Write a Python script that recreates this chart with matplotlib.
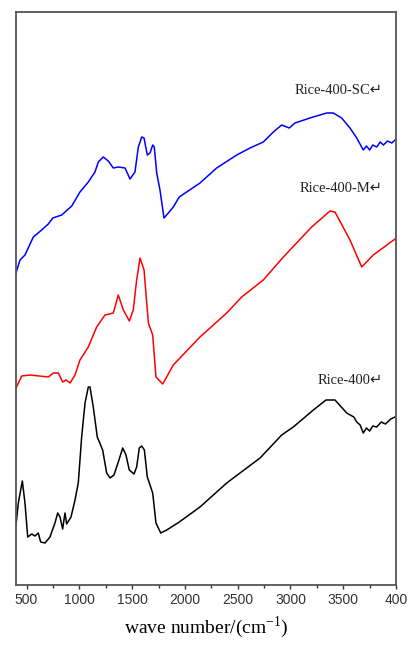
import matplotlib
matplotlib.use("Agg")
import matplotlib.pyplot as plt
from matplotlib.ticker import MultipleLocator

# Wavenumbers (cm^-1) and arbitrary-unit intensities (offset stacked spectra)
wn_sc = [400, 438, 485, 564, 643, 706, 748, 833, 928, 1006, 1085, 1148, 1180, 1227, 1274,
         1322, 1369, 1433, 1480, 1527, 1559, 1591, 1613, 1644, 1670, 1695, 1710, 1733, 1764,
         1802, 1843, 1890, 1947, 2143, 2301, 2491, 2617, 2743, 2838, 2917, 2989, 3043, 3185,
         3343, 3406, 3485, 3564, 3628, 3690, 3720, 3750, 3780, 3817, 3850, 3880, 3920, 3960, 3991]
int_sc = [312, 325, 330, 348, 355, 361, 367, 370, 379, 393, 403, 413, 423, 428, 424,
          417, 418, 417, 406, 413, 438, 448, 447, 430, 432, 440, 438, 412, 395,
          367, 372, 378, 388, 402, 417, 430, 437, 443, 453, 460, 457, 462, 467,
          472, 472, 467, 457, 447, 435, 439, 435, 440, 438, 443, 440, 444, 442, 445]

wn_m = [400, 454, 533, 706, 754, 801, 842, 874, 912, 959, 1006, 1085, 1164, 1243, 1322,
        1369, 1417, 1474, 1511, 1543, 1575, 1613, 1654, 1695, 1726, 1790, 1890, 2143, 2396,
        2538, 2743, 2933, 3201, 3375, 3422, 3564, 3675, 3785, 3991]
int_m = [197, 209, 210, 208, 212, 212, 203, 205, 202, 210, 225, 238, 258, 270, 272,
         290, 275, 264, 275, 305, 327, 315, 262, 250, 208, 201, 220, 248, 272,
         288, 305, 328, 358, 374, 373, 345, 318, 330, 346]

wn_r = [400, 422, 460, 485, 511, 549, 580, 611, 634, 675, 722, 769, 795, 817, 842, 864,
        880, 921, 959, 990, 1022, 1054, 1085, 1101, 1132, 1170, 1221, 1259, 1291, 1328,
        1369, 1411, 1442, 1473, 1518, 1543, 1568, 1591, 1616, 1644, 1695, 1726, 1771, 1828,
        1947, 2143, 2396, 2712, 2917, 3027, 3217, 3337, 3422, 3533, 3600, 3628, 3660, 3690,
        3720, 3750, 3780, 3817, 3860, 3900, 3950, 3991]
int_r = [60, 82, 104, 82, 48, 51, 49, 52, 43, 42, 48, 62, 72, 68, 56, 72,
         61, 68, 85, 102, 148, 182, 198, 198, 178, 148, 135, 112, 107, 110,
         123, 137, 130, 115, 111, 118, 137, 139, 135, 108, 92, 62, 52, 55,
         63, 78, 102, 127, 150, 158, 175, 185, 185, 172, 168, 163, 160, 152,
         157, 154, 159, 158, 163, 161, 166, 168]

labels = ["Rice-400-SC\u21b5", "Rice-400-M\u21b5", "Rice-400\u21b5"]
label_y = [495, 396, 205]
colors = ["#0000ff", "#ff0000", "#000000"]

fig = plt.figure(figsize=(4.08, 6.46), dpi=100)
ax = fig.add_axes([16/408, 1-585/646, 380/408, 573/646])

for wn, val, c in zip([wn_sc, wn_m, wn_r], [int_sc, int_m, int_r], colors):
    ax.plot(wn, val, color=c, lw=1.1)

for lab, ly in zip(labels, label_y):
    ax.text(3877, ly, lab, ha="right", va="center", fontsize=10.5,
            family=["Liberation Serif", "DejaVu Sans"], color="#222222")

ax.set_xlim(400, 4000)
ax.set_ylim(0, 573)
ax.xaxis.set_minor_locator(MultipleLocator(250))
ax.set_xticks([500, 1000, 1500, 2000, 2500, 3000, 3500, 4000])
ax.set_xticklabels(["500", "1000", "1500", "2000", "2500", "3000", "3500", "400"])
ax.tick_params(axis="x", which="major", direction="out", length=3, width=1, pad=3,
               labelsize=10, colors="#333333")
ax.tick_params(axis="x", which="minor", direction="out", length=2, width=1, colors="#333333")
for lbl in ax.get_xticklabels():
    lbl.set_family("Liberation Sans")
ax.set_yticks([])
for s in ax.spines.values():
    s.set_color("#555555")
    s.set_linewidth(1.3)

ax.set_xlabel("wave number/(cm$^{\\mathregular{-1}}$)", fontsize=14,
              family="Liberation Serif", labelpad=5)

fig.savefig("out.png", dpi=100)
